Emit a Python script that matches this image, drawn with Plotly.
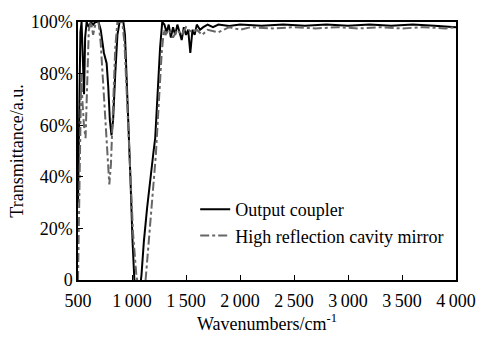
import plotly.graph_objects as go

# Output coupler (solid black)
oc_wn = [500, 510, 522, 533, 545, 556, 566, 580, 600, 620, 640, 660, 690, 710, 740, 765, 780, 795, 810,
         825, 845, 865, 885, 920, 935, 960, 985, 1005, 1022, 1035, 1075, 1088, 1110, 1140, 1170, 1200, 1215,
         1240, 1260, 1280, 1300, 1320, 1340, 1360, 1380, 1400, 1420, 1440, 1460, 1480, 1500, 1520, 1540,
         1560, 1580, 1600, 1630, 1660, 1700, 1750, 1800, 1900, 2000, 2200, 2400, 2600, 2800, 3000, 3200,
         3400, 3600, 3800, 4000]
oc_t = [30, 72, 96, 100, 86, 72, 94, 100, 98, 100, 99, 100, 100, 97, 88, 84, 75, 62, 56,
        62, 80, 95, 100, 100, 95, 70, 40, 15, 0, -3, -3, 2, 15, 28, 40, 50, 55,
        75, 90, 100, 99, 96, 99, 94, 98, 95, 99, 96, 93, 98, 95, 97, 88,
        97, 95, 99, 97, 98, 99, 98, 99, 98.5, 99, 98.5, 99, 98.5, 99, 98.5, 99,
        98.5, 99, 98.5, 98]

# High reflection cavity mirror (grey dash-dot)
hr_wn = [500, 510, 520, 530, 540, 555, 570, 585, 600, 620, 640, 660, 690, 710, 735, 755, 775, 790,
         805, 825, 845, 865, 910, 930, 955, 980, 1010, 1040, 1060, 1120, 1135, 1160, 1190, 1220, 1250,
         1275, 1295, 1310, 1340, 1380, 1420, 1460, 1500, 1550, 1600, 1650, 1700, 1800, 1900, 2000, 2100,
         2300, 2500, 2700, 2900, 3100, 3300, 3500, 3700, 3900, 4000]
hr_t = [0, 30, 60, 80, 70, 60, 55, 80, 97, 100, 95, 99, 100, 92, 75, 60, 45, 37,
        45, 70, 90, 100, 100, 92, 70, 45, 18, 2, -3, -3, 5, 18, 32, 48, 70,
        88, 97, 95, 97, 94, 97, 95, 98, 96, 97, 95, 97, 96, 98, 97, 98,
        97.5, 98, 97.5, 98, 97.5, 98, 97.5, 98, 97.5, 98]

x_ticks = [500, 1000, 1500, 2000, 2500, 3000, 3500, 4000]
x_labels = ["500", "1\u2009000", "1\u2009500", "2\u2009000", "2\u2009500", "3\u2009000", "3\u2009500", "4\u2009000"]
y_ticks = [0, 20, 40, 60, 80, 100]
y_labels = ["0", "20%", "40%", "60%", "80%", "100%"]

font = "Liberation Serif"

fig = go.Figure()
fig.add_trace(go.Scatter(x=oc_wn, y=oc_t, mode="lines", name="Output coupler",
                         line=dict(color="black", width=2)))
fig.add_trace(go.Scatter(x=hr_wn, y=hr_t, mode="lines", name="High reflection cavity mirror",
                         line=dict(color="#666666", width=2, dash="dashdot")))

fig.update_layout(
    width=488, height=338,
    margin=dict(l=78, r=27, t=15, b=54),
    paper_bgcolor="white", plot_bgcolor="white",
    font=dict(family=font, size=18, color="black"),
    showlegend=True,
    legend=dict(x=0.31, y=0.345, xanchor="left", yanchor="top",
                bgcolor="rgba(0,0,0,0)", font=dict(family=font, size=18),
                tracegroupgap=0, itemwidth=30),
)
fig.update_xaxes(range=[500, 4000], tickvals=x_ticks, ticktext=x_labels,
                 ticks="inside", ticklen=5, tickcolor="black", showline=True, linecolor="black",
                 linewidth=1.5, mirror=True, showgrid=False, zeroline=False,
                 tickfont=dict(family=font, size=18), ticklabelstandoff=4,
                 title=dict(text="Wavenumbers/cm<sup>-1</sup>", standoff=2,
                            font=dict(family=font, size=18)))
fig.update_yaxes(range=[0, 100], tickvals=y_ticks, ticktext=y_labels,
                 ticks="inside", ticklen=5, tickcolor="black", showline=True, linecolor="black",
                 linewidth=1.5, mirror=True, showgrid=False, zeroline=False,
                 tickfont=dict(family=font, size=18),
                 title=dict(text="Transmittance/a.u.", standoff=2,
                            font=dict(family=font, size=18)))

fig.write_html("out.html")
